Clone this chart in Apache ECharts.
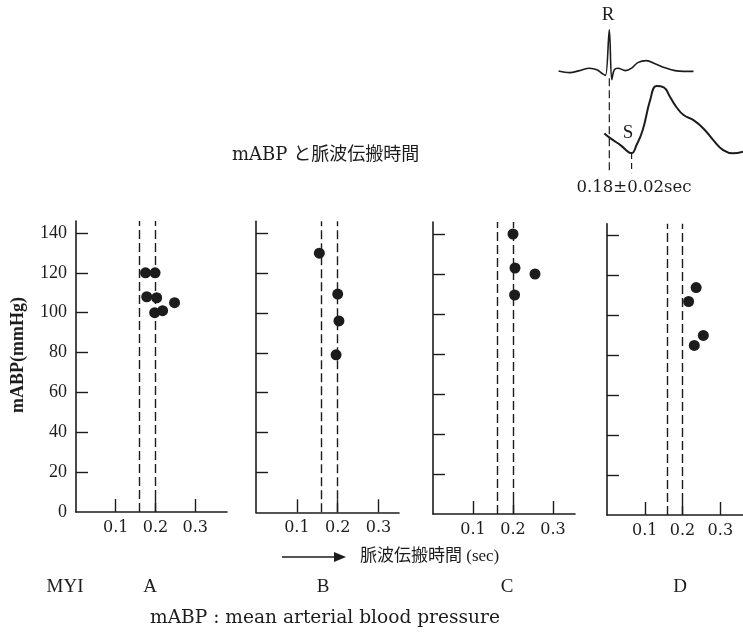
<!DOCTYPE html>
<html>
<head>
<meta charset="utf-8">
<script src="https://cdn.jsdelivr.net/npm/echarts@6/dist/echarts.min.js"></script>
<style>
html,body{margin:0;padding:0;background:#ffffff;}
#chart{width:743px;height:634px;}
</style>
</head>
<body>
<div id="chart"></div>
<script>
// ---- data ----
const panelNames = ['A', 'B', 'C', 'D'];
const xTickValues = [0.1, 0.2, 0.3];
const yTickValues = [20, 40, 60, 80, 100, 120, 140];
const yLabelValues = [0, 20, 40, 60, 80, 100, 120, 140];
const refLines = [0.16, 0.20]; // 0.18 ± 0.02 sec

const pointsA = [[0.175, 120], [0.199, 120], [0.178, 108], [0.203, 107.5], [0.198, 100], [0.218, 101], [0.248, 105]];
const pointsB = [[0.155, 130], [0.200, 109.5], [0.203, 96], [0.196, 79]];
const pointsC = [[0.200, 140], [0.205, 123], [0.255, 120], [0.204, 109.5]];
const pointsD = [[0.236, 114], [0.216, 107], [0.255, 90], [0.231, 85]];

// inset: ECG (time in s relative to R, amplitude mV) and pulse wave (time s, mmHg)
const ecgT = [-0.41, -0.32, -0.24, -0.16, -0.10, -0.05, -0.03, 0.00, 0.02, 0.04, 0.07, 0.13, 0.18, 0.23, 0.30, 0.37, 0.45, 0.53, 0.60, 0.68];
const ecgV = [0, -0.04, 0.01, 0.07, 0.03, -0.08, -0.11, 1.03, -0.22, 0.03, 0.07, 0.01, 0.07, 0.21, 0.26, 0.18, 0.08, 0.01, -0.01, -0.01];
const pulseT = [-0.04, 0.01, 0.09, 0.18, 0.22, 0.27, 0.33, 0.38, 0.44, 0.49, 0.54, 0.60, 0.68, 0.76, 0.84, 0.92, 1.00, 1.08];
const pulseP = [84.7, 81, 76, 70, 76, 87.2, 109.6, 120, 119, 112, 104.6, 98.4, 94.6, 88.4, 79.7, 72.2, 69.8, 71];
const rMarkerT = [0, 0];
const rMarkerV = [-0.18, -2.55];
const sMarkerT = [0.18, 0.18];
const sMarkerP = [70, 55];

// ---- layout ----
const ink = '#1c1c1c';
const serif = '"Liberation Serif", "DejaVu Serif", "Noto Sans CJK JP", serif';
const wideSerif = '"DejaVu Serif", "Liberation Serif", "Noto Sans CJK JP", serif';
const grids = [
  {left: 76, top: 221, width: 151, height: 291},
  {left: 256, top: 221.3, width: 143, height: 291},
  {left: 433, top: 222, width: 142, height: 292},
  {left: 607, top: 223.7, width: 146, height: 291.3}
];
const xMax = [0.38, 0.35, 0.355, 0.36];
const allPoints = [pointsA, pointsB, pointsC, pointsD];

const gridOpt = [], xAxes = [], yAxes = [], series = [];
grids.forEach((g, i) => {
  gridOpt.push(Object.assign({containLabel: false}, g));
  xAxes.push({
    gridIndex: i, type: 'value', min: 0, max: xMax[i],
    axisLine: {show: true, onZero: false, lineStyle: {color: ink, width: 1.6}},
    axisTick: {show: true, inside: true, length: 13, customValues: xTickValues, lineStyle: {color: ink, width: 1.4}},
    axisLabel: {show: true, customValues: xTickValues, formatter: v => v.toFixed(1), fontFamily: wideSerif, fontSize: 16, color: ink, margin: 8},
    splitLine: {show: false}
  });
  yAxes.push({
    gridIndex: i, type: 'value', min: 0, max: 146,
    axisLine: {show: true, onZero: false, lineStyle: {color: ink, width: 1.6}},
    axisTick: {show: true, inside: true, length: 12, customValues: yTickValues, lineStyle: {color: ink, width: 1.4}},
    axisLabel: {show: i === 0, customValues: yLabelValues, fontFamily: serif, fontSize: 18, color: ink, margin: 9},
    splitLine: {show: false}
  });
  series.push({
    type: 'scatter', xAxisIndex: i, yAxisIndex: i,
    data: allPoints[i], symbol: 'circle', symbolSize: 11,
    itemStyle: {color: ink, opacity: 1},
    silent: true,
    markLine: {
      silent: true, symbol: 'none', label: {show: false},
      lineStyle: {color: ink, width: 1.4, type: [9, 4]},
      data: refLines.map(v => ({xAxis: v}))
    }
  });
});

// inset grid
gridOpt.push({left: 540, top: 0, width: 203, height: 200});
xAxes.push({gridIndex: 4, type: 'value', min: -0.56, max: 1.08, show: false});
yAxes.push({gridIndex: 4, type: 'value', min: -3.225, max: 1.775, show: false});
yAxes.push({gridIndex: 4, type: 'value', min: 35, max: 184.25, show: false});
const zip = (a, b) => a.map((v, k) => [v, b[k]]);
series.push({type: 'line', xAxisIndex: 4, yAxisIndex: 4, data: zip(ecgT, ecgV), smooth: 0.35, symbol: 'none', lineStyle: {color: ink, width: 1.6}, silent: true});
series.push({type: 'line', xAxisIndex: 4, yAxisIndex: 5, data: zip(pulseT, pulseP), smooth: 0.45, symbol: 'none', lineStyle: {color: ink, width: 2}, silent: true});
series.push({type: 'line', xAxisIndex: 4, yAxisIndex: 4, data: zip(rMarkerT, rMarkerV), symbol: 'none', lineStyle: {color: ink, width: 1.2, type: [8, 4]}, silent: true});
series.push({type: 'line', xAxisIndex: 4, yAxisIndex: 5, data: zip(sMarkerT, sMarkerP), symbol: 'none', lineStyle: {color: ink, width: 1.2, type: [6, 4]}, silent: true});

const txt = (x, y, text, size, align, family) => ({
  type: 'text', x: x, y: y,
  style: {text: text, fontFamily: family || serif, fontSize: size, fill: ink, align: align || 'center', verticalAlign: 'middle'}
});

const graphic = [
  txt(608, 15, 'R', 19),
  txt(628, 133, 'S', 19),
  txt(634, 188, '0.18±0.02sec', 16.5, 'center', wideSerif),
  txt(232, 155, 'mABP と脈波伝搬時間', 18, 'left', wideSerif),
  {type: 'text', x: 18, y: 355, rotation: Math.PI / 2,
   style: {text: 'mABP(mmHg)', fontFamily: serif, fontSize: 18, fontWeight: 'bold', fill: ink, align: 'center', verticalAlign: 'middle'}},
  {type: 'line', shape: {x1: 282, y1: 557, x2: 343, y2: 557}, style: {stroke: ink, lineWidth: 1.6}},
  {type: 'polygon', shape: {points: [[346, 557], [334, 552], [334, 562]]}, style: {fill: ink}},
  txt(360, 557, '脈波伝搬時間 (sec)', 17, 'left'),
  txt(65, 587, 'MYI', 19),
  txt(150, 587, panelNames[0], 19),
  txt(323, 587, panelNames[1], 19),
  txt(507, 587, panelNames[2], 19),
  txt(680, 587, panelNames[3], 19),
  txt(150, 618, 'mABP : mean arterial blood pressure', 18.6, 'left', wideSerif)
];

const chart = echarts.init(document.getElementById('chart'), null, {renderer: 'canvas'});
chart.setOption({
  backgroundColor: '#ffffff',
  animation: false,
  grid: gridOpt,
  xAxis: xAxes,
  yAxis: yAxes,
  series: series,
  graphic: graphic
});
</script>
</body>
</html>
